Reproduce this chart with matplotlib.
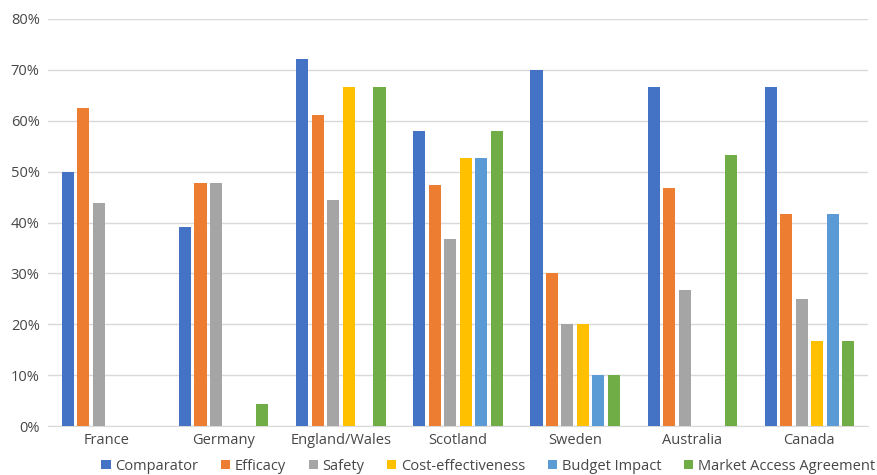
"""Share of assessments citing each criterion, by country."""

import matplotlib
matplotlib.use("Agg")
import matplotlib.pyplot as plt
import numpy as np
from matplotlib.patches import Patch
from matplotlib.ticker import PercentFormatter

countries = ["France", "Germany", "England/Wales", "Scotland", "Sweden", "Australia", "Canada"]
series_names = ["Comparator", "Efficacy", "Safety", "Cost-effectiveness",
                "Budget Impact", "Market Access Agreement"]

# percent per country, None where the criterion was not reported
comparator = [50.0, 39.1, 72.2, 57.9, 70.0, 66.7, 66.7]
efficacy = [62.5, 47.8, 61.1, 47.4, 30.0, 46.7, 41.7]
safety = [43.75, 47.8, 44.4, 36.8, 20.0, 26.7, 25.0]
cost_effectiveness = [None, None, 66.7, 52.6, 20.0, None, 16.7]
budget_impact = [None, None, None, 52.6, 10.0, None, 41.7]
market_access = [None, 4.3, 66.7, 57.9, 10.0, 53.3, 16.7]

series_values = [comparator, efficacy, safety, cost_effectiveness, budget_impact, market_access]
colors = ["#4472C4", "#ED7D31", "#A5A5A5", "#FFC000", "#5B9BD5", "#70AD47"]

plt.rcParams["font.family"] = ["Open Sans", "DejaVu Sans"]
text_color = "#474747"

fig = plt.figure(figsize=(8.78, 4.75), dpi=100)
ax = fig.add_axes([48 / 878, 49 / 475, 820 / 878, 407 / 475])

x = np.arange(len(countries))
slot = 0.132
bar_w = 0.103
for i, (name, vals, color) in enumerate(zip(series_names, series_values, colors)):
    heights = np.array([np.nan if v is None else v / 100 for v in vals])
    offset = (i - 2.5) * slot
    ax.bar(x + offset, heights, width=bar_w, color=color, label=name, zorder=3)

ax.set_xlim(-0.5, len(countries) - 0.5)
ax.set_ylim(0, 0.8)
ax.set_yticks(np.arange(0, 0.81, 0.1))
ax.yaxis.set_major_formatter(PercentFormatter(1.0, decimals=0))
ax.set_xticks(x)
ax.set_xticklabels(countries)
ax.tick_params(axis="both", length=0, labelsize=10.5, colors=text_color)
ax.tick_params(axis="y", pad=6)
ax.tick_params(axis="x", pad=5)
ax.grid(axis="y", color="#D9D9D9", linewidth=1, zorder=0)
for side in ["top", "right", "left"]:
    ax.spines[side].set_visible(False)
ax.spines["bottom"].set_color("#D9D9D9")

handles = [Patch(facecolor=c, label=n) for n, c in zip(series_names, colors)]
fig.legend(handles=handles, loc="center", bbox_to_anchor=(488 / 878, 1 - 466 / 475),
           ncol=6, frameon=False, fontsize=10.5, handlelength=0.65, handleheight=0.65,
           handletextpad=0.3, columnspacing=1.55, labelcolor=text_color)

fig.savefig("out.png", dpi=100)
